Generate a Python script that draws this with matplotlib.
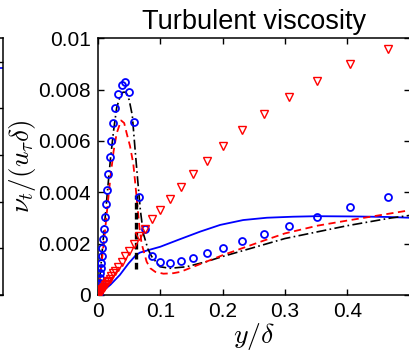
import matplotlib
matplotlib.use("Agg")
import matplotlib.pyplot as plt

plt.rcParams['font.family'] = ['Liberation Sans', 'DejaVu Sans']
plt.rcParams['mathtext.fontset'] = 'cm'

# Blue circles (reference data)
y_circ = [0.0016, 0.0021, 0.0027, 0.0032, 0.0037, 0.0043, 0.0048, 0.0059, 0.0070, 0.0080,
          0.0096, 0.0112, 0.0128, 0.0144, 0.0166, 0.0187, 0.0214, 0.0246, 0.0278, 0.0326,
          0.0380, 0.0439, 0.0497, 0.0572, 0.0663, 0.0759, 0.0872, 0.1000, 0.1155, 0.1326,
          0.1519, 0.1749, 0.2011, 0.2316, 0.2658, 0.3059, 0.3519, 0.4037, 0.4647]
nut_circ = [0.000065, 0.0003, 0.00048, 0.00068, 0.00087, 0.00104, 0.00123, 0.00151, 0.00182, 0.00217,
            0.00256, 0.00303, 0.00355, 0.00409, 0.00470, 0.00536, 0.00600, 0.00671, 0.00730, 0.00783,
            0.00819, 0.00829, 0.00790, 0.00673, 0.00381, 0.00258, 0.00153, 0.00127, 0.00125, 0.00132,
            0.00145, 0.00162, 0.00183, 0.00209, 0.00236, 0.00269, 0.00305, 0.00342, 0.00381]

# Red triangles
y_tri = y_circ
nut_tri = [0.00005, 0.00007, 0.00009, 0.00011, 0.00013, 0.00015, 0.00016, 0.0002, 0.00024, 0.00027,
           0.00033, 0.00038, 0.00044, 0.00049, 0.00056, 0.00064, 0.00073, 0.00084, 0.00095, 0.00111,
           0.00129, 0.00150, 0.00170, 0.00200, 0.00228, 0.00258, 0.00295, 0.00332, 0.00375, 0.00422,
           0.00471, 0.00523, 0.00582, 0.00643, 0.00706, 0.00770, 0.00835, 0.00899, 0.00958]

# Blue solid line
y_blue = [0, 0.01, 0.02, 0.035, 0.049, 0.06, 0.067, 0.081, 0.1, 0.13, 0.164, 0.196, 0.233,
          0.271, 0.313, 0.351, 0.41, 0.465, 0.5]
nut_blue = [0, 0.0002, 0.0004, 0.00078, 0.00123, 0.00153, 0.00165, 0.00175, 0.00188, 0.00216,
            0.00247, 0.00273, 0.00292, 0.00301, 0.00305, 0.00307, 0.00306, 0.00304, 0.00301]

# Black dash-dot line
y_black = [0, 0.003, 0.006, 0.01, 0.015, 0.02, 0.025, 0.03, 0.035, 0.04, 0.045, 0.05, 0.055,
           0.0594, 0.0636, 0.068, 0.0727, 0.08, 0.0861, 0.0995, 0.1155, 0.142, 0.174, 0.2,
           0.25, 0.3, 0.35, 0.4, 0.47, 0.5]
nut_black = [0, 0.0007, 0.0015, 0.0026, 0.0040, 0.0053, 0.0064, 0.0073, 0.0077, 0.0079, 0.0079,
             0.0076, 0.0070, 0.0057, 0.0045, 0.0033, 0.0024, 0.0018, 0.0015, 0.0011, 0.00104,
             0.0011, 0.0013, 0.0015, 0.00185, 0.0022, 0.00245, 0.0027, 0.0030, 0.0031]

# Red dashed line
y_red = [0, 0.003, 0.006, 0.01, 0.015, 0.02, 0.025, 0.03, 0.037, 0.042, 0.046, 0.0514, 0.0567,
         0.06, 0.0667, 0.07, 0.078, 0.084, 0.092, 0.105, 0.121, 0.132, 0.153, 0.201, 0.266,
         0.3, 0.352, 0.4, 0.45, 0.5]
nut_red = [0, 0.0006, 0.0013, 0.0022, 0.0034, 0.0046, 0.0056, 0.0063, 0.0068, 0.0067, 0.0063,
           0.0058, 0.0051, 0.0043, 0.0026, 0.0020, 0.0013, 0.00104, 0.0009, 0.00083, 0.00085,
           0.0009, 0.0011, 0.00156, 0.00212, 0.0024, 0.0027, 0.0029, 0.0031, 0.0033]

# Vertical marker line
y_vline = [0.0605, 0.0605]
nut_vline = [0.001, 0.0039]

# Left (cropped) panel
left_line_x = [0.0, 1.0]
left_line_y = [4.86, 4.86]

xticks = [0, 0.1, 0.2, 0.3, 0.4]
xticklabels = ['0', '0.1', '0.2', '0.3', '0.4']
yticks = [0, 0.002, 0.004, 0.006, 0.008, 0.01]
yticklabels = ['0', '0.002', '0.004', '0.006', '0.008', '0.01']

W, H = 409, 351
fig = plt.figure(figsize=(W / 100, H / 100), dpi=100)

bot = (H - 295) / H
top = (H - 38.3) / H

# left cropped panel
axl = fig.add_axes([-0.5, bot, 0.5 + 2.7 / W, top - bot])
axl.plot(left_line_x, left_line_y, color='#0000ff', lw=1.2)
axl.set_xlim(0, 1)
axl.set_ylim(0, 5.5)
axl.set_yticks([0, 1, 2, 3, 4, 5])
axl.set_yticklabels([])
axl.set_xticks([])
axl.tick_params(direction='in', right=True, left=True, length=4, width=1)
for s in axl.spines.values():
    s.set_linewidth(1.1)

ax = fig.add_axes([98 / W, bot, (409.6 - 98) / W, top - bot])
ax.plot(y_blue, nut_blue, color='#0000ff', lw=1.3, zorder=3)
ax.plot(y_black, nut_black, color='black', lw=1.2, linestyle=(0, (6, 2, 1, 2)), zorder=3)
ax.plot(y_red, nut_red, color='#ff0000', lw=1.3, linestyle=(0, (4, 2.5)), zorder=3)
ax.plot(y_vline, nut_vline, color='black', lw=2.4, linestyle=(0, (2, 1)), zorder=3)
ax.plot(y_circ, nut_circ, linestyle='none', marker='o', ms=5, mfc='none', mec='#0000ff', mew=1.3, zorder=4)
ax.plot(y_tri, nut_tri, linestyle='none', marker='v', ms=5.5, mfc='none', mec='#ff0000', mew=1.0, zorder=4)

ax.set_xlim(0, 0.5)
ax.set_ylim(0, 0.01)
ax.set_xticks(xticks)
ax.set_xticklabels(xticklabels)
ax.set_yticks(yticks)
ax.set_yticklabels(yticklabels)
ax.tick_params(direction='in', top=True, right=True, length=4, width=1, labelsize=15, pad=5)
for s in ax.spines.values():
    s.set_linewidth(1.1)

ax.set_title('Turbulent viscosity', fontsize=19.5, pad=7)
ax.set_xlabel(r'$y/\delta$', fontsize=20, labelpad=0)
ax.set_ylabel(r'$\nu_t/(u_\tau\delta)$', fontsize=19.5, labelpad=0)

fig.savefig('out.png', dpi=100)
